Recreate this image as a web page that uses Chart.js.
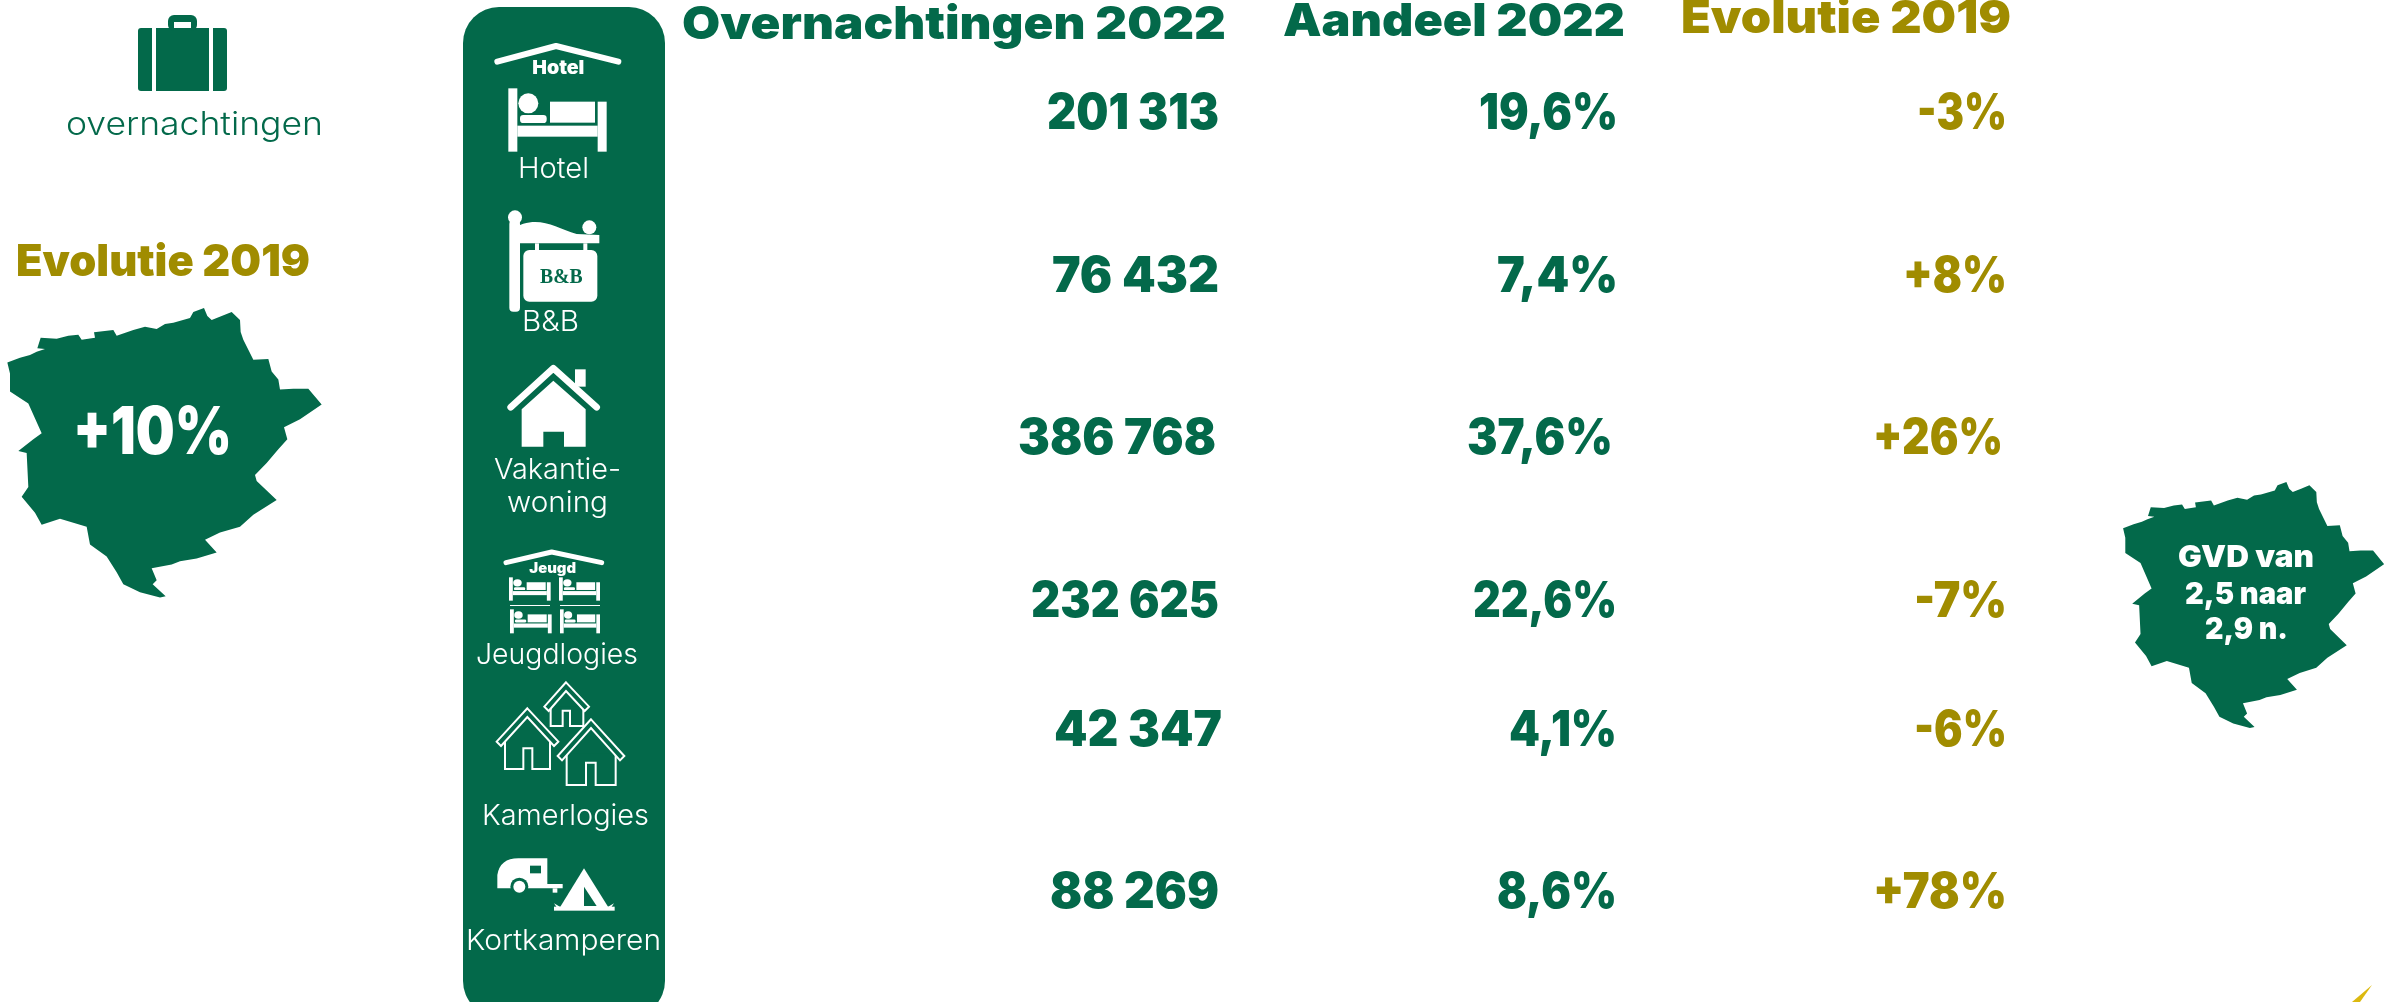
<!DOCTYPE html>
<html lang="nl">
<head>
<meta charset="utf-8">
<title>Overnachtingen 2022</title>
<style>html,body{margin:0;padding:0;background:#fff}canvas{display:block}</style>
<script src="https://cdn.jsdelivr.net/npm/chart.js@4"></script>
</head>
<body>
<canvas id="c" width="2384" height="1002"></canvas>
<script>
// ---- data ----
const categories = ['Hotel', 'B&B', 'Vakantiewoning', 'Jeugdlogies', 'Kamerlogies', 'Kortkamperen'];
const columnTitles = ['Overnachtingen 2022', 'Aandeel 2022', 'Evolutie 2019'];
const overnachtingen = [201313, 76432, 386768, 232625, 42347, 88269];
const aandeel = [19.6, 7.4, 37.6, 22.6, 4.1, 8.6];
const evolutie = [-3, 8, 26, -7, -6, 78];
const totalEvolutie = 10;
const gvdLabels = ['GVD van', '2,5 naar', '2,9 n.'];

// ---- layout (not data) ----
const GREEN = '#03694a', GOLD = '#a08c00', WHITE = '#ffffff';
const rowBaseline = [129, 292, 454, 617, 746, 908];
const colA = { left: [1047, 1052, 1018, 1031, 1054, 1050], right: [1219, 1219, 1216, 1219, 1222, 1219] };
const colB = { left: [1479, 1497, 1467, 1473, 1509, 1497], right: [1618, 1618, 1613, 1617, 1617, 1617] };
const colC = { left: [1917, 1903, 1873, 1914, 1914, 1873], right: [2007, 2007, 2003, 2007, 2007, 2007] };
const headerBox = [[682, 1226, 39], [1283, 1625, 36], [1681, 2011, 33]];
const pillLabels = [
  ['Hotel', 518, 589, 178], ['B&B', 522, 579, 331], ['Vakantie-', 494, 621, 479], ['woning', 507, 608, 512],
  ['Jeugdlogies', 476, 638, 664], ['Kamerlogies', 482, 649, 825], ['Kortkamperen', 466, 661, 950]
];
const gvdBox = [[2178, 2314, 567], [2185, 2306, 604], [2205, 2288, 639]];
// province outline, in units of a 965x1503 tracing
const outline = [[22,912],[60,900],[90,893],[110,885],[135,878],[112,876],[122,850],[170,852],[205,845],[235,842],[245,855],[285,850],[282,836],[340,830],[350,845],[400,830],[435,822],[470,828],[495,815],[520,812],[570,800],[580,785],[612,775],[622,795],[635,805],[665,795],[695,785],[720,805],[722,835],[730,855],[760,905],[805,903],[815,935],[835,955],[840,980],[880,978],[925,978],[965,1018],[900,1055],[852,1075],[862,1105],[835,1130],[800,1165],[765,1195],[770,1210],[830,1258],[760,1295],[720,1325],[660,1340],[615,1358],[650,1390],[590,1405],[540,1412],[515,1420],[455,1430],[470,1460],[458,1470],[497,1500],[480,1503],[420,1490],[370,1470],[350,1440],[320,1400],[270,1370],[260,1325],[180,1305],[125,1320],[105,1290],[65,1250],[85,1225],[80,1140],[55,1135],[100,1105],[125,1090],[85,1015],[30,985],[30,940]];

const fmtNum = v => String(v).replace(/\B(?=(\d{3})+$)/g, ' ');
const fmtEvo = v => (v > 0 ? '+' : '-') + Math.abs(v) + '%';
const fmtPct = v => v.toFixed(1).replace('.', ',') + '%';

function fit(ctx, text, left, right, base, font, color) {
  ctx.save();
  ctx.font = font;
  ctx.fillStyle = color;
  ctx.textAlign = 'left';
  ctx.textBaseline = 'alphabetic';
  const w = ctx.measureText(text).width;
  ctx.translate(left, base);
  ctx.scale((right - left) / w, 1);
  ctx.fillText(text, 0, 0);
  ctx.restore();
}
const BOLD = s => `900 ${s}px Inter, sans-serif`;
const LIGHT = s => `300 ${s}px Inter, sans-serif`;

function poly(ctx, pts, close) {
  ctx.beginPath();
  pts.forEach((p, i) => i ? ctx.lineTo(p[0], p[1]) : ctx.moveTo(p[0], p[1]));
  if (close) ctx.closePath();
}
function map(ctx, x0, y0, sx, sy) {
  ctx.fillStyle = GREEN;
  poly(ctx, outline.map(p => [x0 + p[0] * sx, y0 + p[1] * sy]), true);
  ctx.fill();
}
function rr(ctx, x, y, w, h, r, fill) {
  ctx.beginPath();
  ctx.roundRect(x, y, w, h, r);
  ctx.fillStyle = fill;
  ctx.fill();
}
function suitcase(ctx) {
  rr(ctx, 138, 28, 89, 63, 3, GREEN);
  rr(ctx, 168, 15, 29, 16, 6, GREEN);
  ctx.fillStyle = WHITE;
  ctx.fillRect(174, 22, 17, 6);
  ctx.fillRect(152, 28, 4, 63);
  ctx.fillRect(209, 28, 4, 63);
}
function roofLine(ctx, a, b, c, lw) {
  ctx.strokeStyle = WHITE;
  ctx.lineWidth = lw;
  ctx.lineCap = 'round';
  ctx.lineJoin = 'round';
  poly(ctx, [a, b, c]);
  ctx.stroke();
}
function bed(ctx, x, y, w, h) {
  ctx.save();
  ctx.translate(x, y);
  ctx.scale(w / 295, h / 190);
  ctx.fillStyle = WHITE;
  ctx.fillRect(0, 0, 27, 190);
  ctx.fillRect(268, 40, 27, 150);
  ctx.fillRect(27, 112, 241, 33);
  ctx.fillRect(125, 40, 135, 63);
  rr(ctx, 35, 80, 80, 24, 10, WHITE);
  ctx.beginPath();
  ctx.arc(60, 45, 30, 0, 7);
  ctx.fill();
  ctx.restore();
}
function outlinedHouse(ctx, tip, eL, eR, bL, bR, bot, dL, dR, dT, wallY) {
  ctx.strokeStyle = WHITE;
  ctx.lineWidth = 6;
  ctx.lineJoin = 'miter';
  ctx.lineCap = 'butt';
  ctx.fillStyle = GREEN;
  poly(ctx, [[bL, wallY], [bL, bot], [dL, bot], [dL, dT], [dR, dT], [dR, bot], [bR, bot], [bR, wallY]]);
  ctx.fill();
  ctx.stroke();
  poly(ctx, [tip, [eR[0], eR[1]], [eR[0] - 13, eR[1] + 13], [tip[0], tip[1] + 26], [eL[0] + 13, eL[1] + 13], [eL[0], eL[1]]], true);
  ctx.fill();
  ctx.stroke();
}

const infographic = {
  id: 'infographic',
  afterDatasetsDraw(chart) {
    const ctx = chart.ctx;
    const X = v => chart.scales.x.getPixelForValue(v);
    const Y = v => chart.scales.y.getPixelForValue(v);

    // left panel
    suitcase(ctx);
    fit(ctx, 'overnachtingen', 66, 323, 135, LIGHT(32), GREEN);
    fit(ctx, 'Evolutie 2019', 16, 310, 276, BOLD(44), GOLD);
    map(ctx, 0, 0, 1 / 3, 1 / 2.516);
    fit(ctx, fmtEvo(totalEvolutie), 73, 232, 454, BOLD(66), WHITE);

    // pill with categories
    rr(ctx, 463, 7, 202, 1010, 36, GREEN);
    pillLabels.forEach(l => fit(ctx, l[0], l[1], l[2], l[3], LIGHT(29), WHITE));

    // pill icons, traced at 3x
    ctx.save();
    ctx.translate(X(440), Y(0));
    ctx.scale(1 / 3, 1 / 3);
    roofLine(ctx, [172, 185], [348, 138], [535, 185], 18);
    fit(ctx, 'Hotel', 277, 433, 222, BOLD(56), WHITE);
    bed(ctx, 205, 265, 295, 190);
    ctx.fillStyle = WHITE;
    rr(ctx, 208, 660, 32, 275, 12, WHITE);
    ctx.beginPath(); ctx.arc(225, 652, 21, 0, 7); ctx.fill();
    ctx.beginPath(); ctx.arc(448, 682, 21, 0, 7); ctx.fill();
    ctx.beginPath();
    ctx.moveTo(210, 690);
    ctx.bezierCurveTo(290, 640, 340, 680, 410, 702);
    ctx.lineTo(478, 705); ctx.lineTo(478, 730); ctx.lineTo(230, 730); ctx.lineTo(230, 710);
    ctx.closePath(); ctx.fill();
    ctx.fillRect(285, 730, 12, 22); ctx.fillRect(430, 730, 12, 22);
    rr(ctx, 250, 750, 222, 155, 18, WHITE);
    fit(ctx, 'B&B', 300, 428, 848, 'bold 60px "Liberation Serif", serif', GREEN);
    roofLine(ctx, [212, 1222], [340, 1105], [470, 1222], 20);
    ctx.fillStyle = WHITE;
    ctx.fillRect(405, 1108, 32, 52);
    poly(ctx, [[245, 1228], [340, 1142], [437, 1228], [437, 1340], [372, 1340], [372, 1295], [310, 1295], [310, 1340], [245, 1340]], true);
    ctx.fill();
    ctx.restore();

    ctx.save();
    ctx.translate(X(440), Y(520));
    ctx.scale(1 / 3, 1 / 3);
    roofLine(ctx, [198, 128], [335, 96], [485, 128], 15);
    fit(ctx, 'Jeugd', 268, 408, 158, BOLD(42), WHITE);
    bed(ctx, 207, 172, 125, 70);
    bed(ctx, 357, 172, 123, 70);
    bed(ctx, 210, 268, 125, 72);
    bed(ctx, 360, 268, 120, 72);
    ctx.fillStyle = WHITE;
    ctx.fillRect(210, 255, 120, 3);
    ctx.fillRect(360, 255, 120, 3);
    outlinedHouse(ctx, [378, 487], [313, 560], [447, 560], 332, 430, 618, 368, 390, 572, 560);
    outlinedHouse(ctx, [262, 565], [170, 665], [355, 665], 195, 330, 747, 250, 277, 685, 660);
    outlinedHouse(ctx, [453, 598], [353, 708], [553, 708], 380, 527, 795, 438, 467, 728, 700);
    ctx.fillStyle = WHITE;
    ctx.beginPath();
    ctx.moveTo(172, 1105); ctx.lineTo(172, 1065);
    ctx.quadraticCurveTo(180, 1015, 235, 1015);
    ctx.lineTo(322, 1015); ctx.lineTo(322, 1092); ctx.lineTo(368, 1092); ctx.lineTo(368, 1105);
    ctx.closePath(); ctx.fill();
    ctx.fillRect(338, 1105, 14, 13);
    ctx.fillStyle = GREEN;
    ctx.fillRect(270, 1037, 33, 23);
    ctx.beginPath(); ctx.arc(238, 1100, 27, 0, 7); ctx.fill();
    ctx.fillStyle = WHITE;
    ctx.beginPath(); ctx.arc(238, 1100, 18, 0, 7); ctx.fill();
    poly(ctx, [[432, 1045], [360, 1162], [505, 1162]], true); ctx.fill();
    ctx.fillRect(342, 1160, 182, 12);
    poly(ctx, [[342, 1150], [362, 1162], [350, 1162]], true); ctx.fill();
    poly(ctx, [[522, 1150], [502, 1162], [514, 1162]], true); ctx.fill();
    ctx.fillStyle = GREEN;
    poly(ctx, [[432, 1100], [432, 1158], [470, 1158]], true); ctx.fill();
    ctx.restore();

    // table
    columnTitles.forEach((t, i) => {
      const b = headerBox[i];
      fit(ctx, t, b[0], b[1], b[2], BOLD(46), i === 2 ? GOLD : GREEN);
    });
    const formats = [fmtNum, fmtPct, fmtEvo];
    const lefts = [colA.left, colB.left, colC.left];
    chart.data.datasets.forEach((ds, d) => {
      chart.getDatasetMeta(d).data.forEach((pt, r) => {
        fit(ctx, formats[d](ds.values[r]), X(lefts[d][r]), pt.x, pt.y, BOLD(49), d === 2 ? GOLD : GREEN);
      });
    });

    // right panel
    map(ctx, 2117, 220, 0.2768, 0.338);
    gvdLabels.forEach((t, i) => fit(ctx, t, gvdBox[i][0], gvdBox[i][1], gvdBox[i][2], BOLD(30), WHITE));

    // yellow sliver at the corner
    ctx.fillStyle = '#dcb90f';
    poly(ctx, [[2352, 1002], [2372, 985], [2360, 1002]], true);
    ctx.fill();
  }
};

const points = (col, values) => ({
  values,
  data: values.map((_, i) => ({ x: col.right[i], y: rowBaseline[i] })),
  pointRadius: 0,
  showLine: false
});

new Chart(document.getElementById('c'), {
  type: 'scatter',
  data: {
    datasets: [
      { ...points(colA, overnachtingen), label: columnTitles[0] },
      { ...points(colB, aandeel), label: columnTitles[1] },
      { ...points(colC, evolutie), label: columnTitles[2] }
    ]
  },
  options: {
    responsive: false,
    animation: false,
    layout: { padding: 0 },
    plugins: { legend: { display: false }, tooltip: { enabled: false } },
    scales: {
      x: { type: 'linear', min: 0, max: 2384, display: false },
      y: { type: 'linear', min: 0, max: 1002, reverse: true, display: false }
    }
  },
  plugins: [infographic]
});
</script>
</body>
</html>
